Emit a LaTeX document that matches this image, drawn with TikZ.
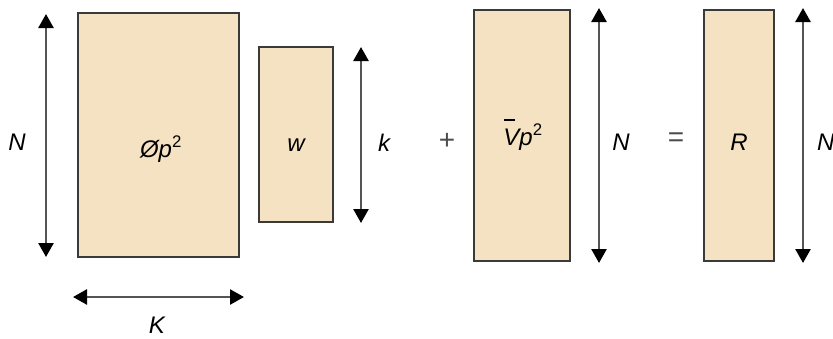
\documentclass[tikz,border=0pt]{standalone}
\usepackage{fontspec}
\setmainfont{Liberation Sans}
\usetikzlibrary{arrows.meta}
\definecolor{boxfill}{HTML}{F5E2C2}
\definecolor{boxline}{HTML}{3A3A3A}
\definecolor{arrline}{HTML}{555555}
\begin{document}
\begin{tikzpicture}[x=1pt,y=-1pt,
  mat/.style={draw=boxline,line width=1.6pt,fill=boxfill},
  dim/.style={draw=arrline,line width=2.6pt,{Triangle[length=14pt,width=15pt,color=black]}-{Triangle[length=14pt,width=15pt,color=black]},shorten <=-1pt,shorten >=-1pt},
  lbl/.style={font=\fontsize{24}{28}\selectfont\itshape,inner sep=0pt,anchor=base},
  op/.style={font=\fontsize{28}{32}\selectfont,text=black!70,inner sep=0pt}]
\useasboundingbox (0,0) rectangle (833,338);
% boxes
\draw[mat] (78,13) rectangle (239,257);
\node[lbl] (phi) at (161,157) {Ø\textit{p}\textsuperscript{\upshape 2}};
\draw[mat] (259,47) rectangle (333,222);
\node[lbl] (w) at (296,151) {w};
\draw[mat] (474,10) rectangle (570,261);
\node[lbl] (v) at (523,145) {\rlap{\raisebox{0.98em}{\kern0.03em\rule{0.44em}{2pt}}}V\textit{p}\textsuperscript{\upshape 2}};
\draw[mat] (704,10) rectangle (774,261);
\node[lbl] (r) at (739,150) {R};
% dimension arrows
\coordinate (a1) at (46,15); \coordinate (a2) at (46,256);
\draw[dim] (a1) -- (a2);
\node[lbl] (n1) at (17,150) {N};
\coordinate (b1) at (74,297); \coordinate (b2) at (243,297);
\draw[dim] (b1) -- (b2);
\node[lbl] (kk) at (157,333) {K};
\coordinate (c1) at (361,48); \coordinate (c2) at (361,222);
\draw[dim] (c1) -- (c2);
\node[lbl] (k) at (384,151) {k};
\coordinate (d1) at (599,9); \coordinate (d2) at (599,262);
\draw[dim] (d1) -- (d2);
\node[lbl] (n2) at (621,150) {N};
\coordinate (e1) at (803,9); \coordinate (e2) at (803,262);
\draw[dim] (e1) -- (e2);
\node[lbl,anchor=base west] (n3) at (817,150) {N};
% operators
\node[op] (plus) at (447,141) {+};
\node[op] (eq) at (676,140) {=};
\end{tikzpicture}
\end{document}
